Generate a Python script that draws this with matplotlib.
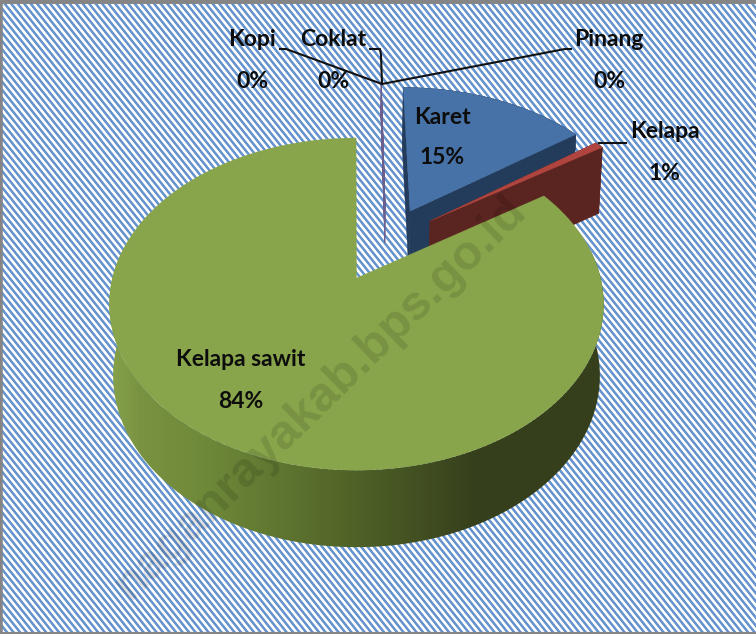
import numpy as np
from matplotlib import pyplot as plt
from matplotlib.collections import PolyCollection
from matplotlib.colors import LinearSegmentedColormap
from matplotlib.patches import Polygon

# data
categories = ['Karet', 'Kelapa', 'Kelapa sawit', 'Kopi', 'Coklat', 'Pinang']
shares = [15.0, 0.7, 84.2, 0.01, 0.01, 0.01]

# look of each slice
top_colors = ['#4672a8', '#b0453f', '#89a54b', '#6b5f8f', '#6b5f8f', '#6b5f8f']
wall_colors = ['#243c5c', '#5a2420', None, '#6b5f8f', '#6b5f8f', '#6b5f8f']
explode = [0.5, 0.49, 0.0, 0.5, 0.5, 0.5]
explode_dir = [28.0, 40.6, 0.0, 14.6, 14.6, 14.6]

W, H = 756, 634
CX, CY = 356.5, 278
RX, RY = 244, 162
TILT = 0.157
DEPTH = 70.7

wall_cmap = LinearSegmentedColormap.from_list('wall', [
    (0.0, '#87a34a'), (0.06, '#7a9342'), (0.2, '#6e8839'),
    (0.46, '#536729'), (0.74, '#363f1c'), (1.0, '#363f1c')])


def project(u, v, drop=0.0):
    # tilted disc with a bit of perspective, result is in image pixels
    w = 1 + TILT * v
    x = CX + RX * u / w
    y = CY - RY * v / w + drop * DEPTH / np.sqrt(w)
    return CX + (x - CX) * (1 - 0.015 * drop), y


def slice_outline(a0, a1, exp, direction):
    du = exp * np.sin(np.radians(direction))
    dv = exp * np.cos(np.radians(direction))
    t = np.radians(np.linspace(a0, a1, max(2, int(a1 - a0) * 2)))
    u = np.r_[du, du + np.sin(t), du]
    v = np.r_[dv, dv + np.cos(t), dv]
    return u, v


def draw_gradient_wall(ax, a0, a1):
    # only the front of the rim shows, the top face hides the rest
    t = np.radians(np.linspace(max(a0, 80), min(a1, 280), 400))
    xt, yt = project(np.sin(t), np.cos(t))
    xb, yb = project(np.sin(t), np.cos(t), 1.0)
    shape = Polygon(np.c_[np.r_[xt, xb[::-1]], np.r_[yt, yb[::-1]]], closed=True,
                    facecolor='none', edgecolor='none', transform=ax.transData)
    ax.add_patch(shape)
    x0, x1 = CX - RX * 1.02, CX + RX * 1.02
    ramp = wall_cmap(np.linspace(0, 1, 512))[None, :, :]
    im = ax.imshow(ramp, extent=(x0, x1, yb.max() + 2, yt.min() - 2), aspect='auto',
                   interpolation='bilinear', zorder=1)
    im.set_clip_path(shape)


def draw_slice(ax, i, a0, a1):
    u, v = slice_outline(a0, a1, explode[i], explode_dir[i])
    xt, yt = project(u, v)
    thin = a1 - a0 < 1
    if wall_colors[i] is None:
        draw_gradient_wall(ax, a0, a1)
    else:
        xb, yb = project(u, v, 0.55 if thin else 1.0)
        quads = [[(xt[k], yt[k]), (xt[k + 1], yt[k + 1]), (xb[k + 1], yb[k + 1]), (xb[k], yb[k])]
                 for k in range(len(u) - 1)]
        ax.add_collection(PolyCollection(quads, facecolors=wall_colors[i], edgecolors=wall_colors[i],
                                         linewidths=0.35, zorder=1))
    ax.add_patch(Polygon(np.c_[xt, yt], closed=True, facecolor=top_colors[i], edgecolor=top_colors[i],
                         linewidth=0.35 if thin else 0.2, zorder=1))


def main():
    fig = plt.figure(figsize=(W / 100, H / 100), dpi=100)
    ax = fig.add_axes([0, 0, 1, 1])

    # striped background
    yy, xx = np.mgrid[0:H, 0:W]
    phase = (xx - yy / 1.25) / 6.5
    stripe = np.clip(0.5 + 1.1 * np.sin(2 * np.pi * phase), 0, 1)
    blue = np.array([0x66, 0x94, 0xce]) / 255
    img = stripe[..., None] * blue + (1 - stripe[..., None])
    ax.imshow(img, extent=(0, W, H, 0), interpolation='nearest', zorder=0)

    edges = np.r_[0, np.cumsum(shares)] / np.sum(shares) * 360
    for i in [3, 4, 5, 0, 1, 2]:
        draw_slice(ax, i, edges[i], edges[i + 1])

    ax.set_xlim(0, W)
    ax.set_ylim(H, 0)
    ax.set_aspect('auto')
    ax.set_xticks([])
    ax.set_yticks([])
    ax.spines['right'].set_visible(False)
    ax.spines['top'].set_color('#858585')
    ax.spines['top'].set_linewidth(5)
    ax.spines['left'].set_color('#858585')
    ax.spines['left'].set_linewidth(4)
    ax.spines['bottom'].set_color('#858585')
    ax.spines['bottom'].set_linewidth(3)

    # leader lines
    ax.plot([280, 286, 382], [49, 49, 84], color='#111111', lw=1.5, zorder=5)
    ax.plot([370, 380, 381, 382], [49, 49, 55, 84], color='#111111', lw=1.5, zorder=5)
    ax.plot([382, 565, 571], [84, 49, 49], color='#111111', lw=1.5, zorder=5)
    ax.plot([599, 626], [143, 143], color='#111111', lw=1.5, zorder=5)

    # labels
    label_pos = [(442, 117), (665, 132), (241, 360), (252, 40), (333, 40), (609, 40)]
    for name, share, (x, y) in zip(categories, shares, label_pos):
        ax.text(x, y, name, ha='center', va='center', fontsize=16.5, family='Lato', fontweight='bold',
                color='#0d0d0d', zorder=6)
        ax.text(x, y + 41, '%d%%' % round(share), ha='center', va='center', fontsize=16.5, family='Lato',
                fontweight='bold', color='#0d0d0d', zorder=6)

    # watermark
    ax.text(320, 398, 'naganrayakab.bps.go.id', rotation=44.3, rotation_mode='anchor',
            ha='center', va='center', fontsize=35, family='Liberation Sans', fontweight='bold',
            color='black', alpha=0.12, zorder=7)

    fig.savefig('out.png', dpi=100)


if __name__ == '__main__':
    main()
